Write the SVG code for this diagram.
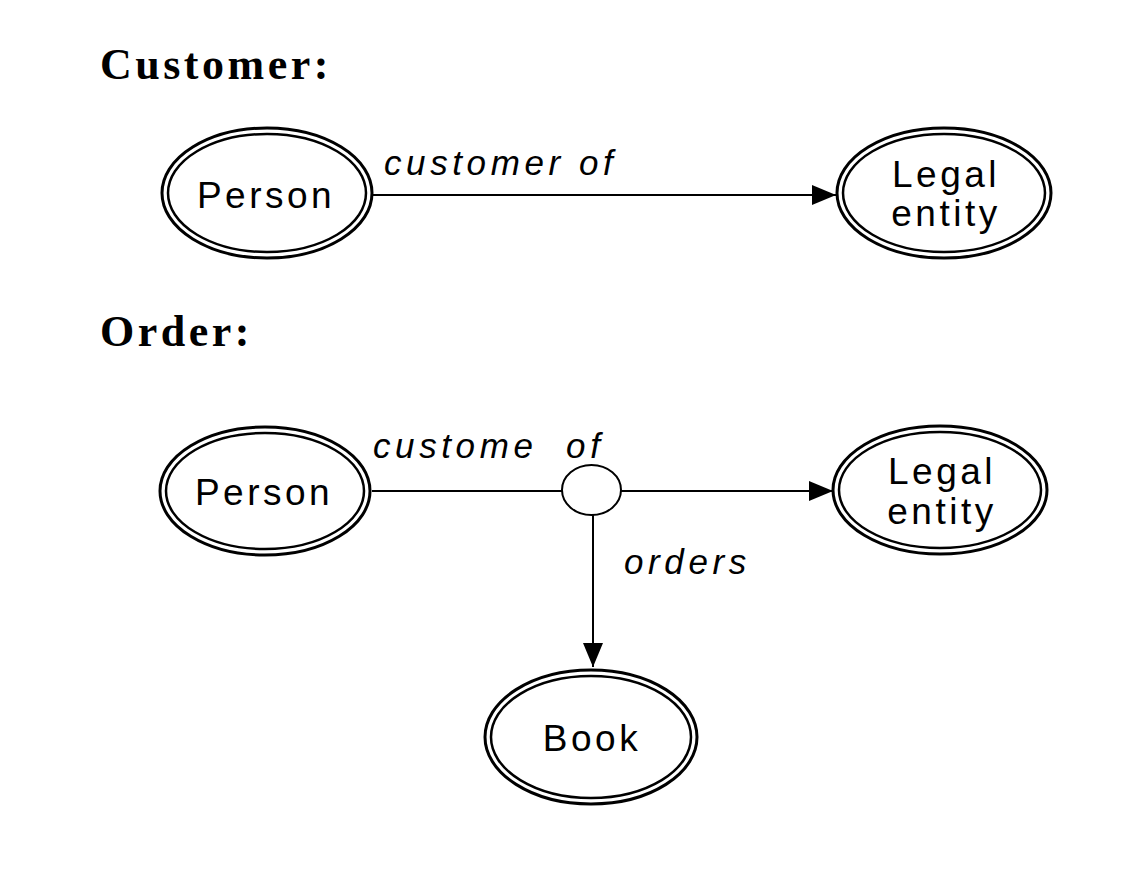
<svg xmlns="http://www.w3.org/2000/svg" width="1148" height="880" viewBox="0 0 1148 880">
<style>
.o{fill:none;stroke:#000;stroke-width:3}
.i{fill:none;stroke:#000;stroke-width:2.5}
.lbl{font-family:"Liberation Sans",Arial,sans-serif;font-size:37px;letter-spacing:3.5px;text-anchor:middle;fill:#000}
.rel{font-family:"Liberation Sans",Arial,sans-serif;font-size:35px;font-style:italic;letter-spacing:4.6px;fill:#000}
.hd{font-family:"Liberation Serif","Times New Roman",serif;font-size:44px;font-weight:bold;letter-spacing:3.5px;fill:#000}
.ln{stroke:#000;stroke-width:2;fill:none}
</style>
<defs>
<marker id="arr" markerWidth="24" markerHeight="20" refX="24" refY="10" orient="auto" markerUnits="userSpaceOnUse">
<path d="M0,0 L24,10 L0,20 Z" fill="#000"/>
</marker>
</defs>
<text class="hd" x="100" y="79">Customer:</text>
<text class="hd" x="100" y="346">Order:</text>
<g id="connectors">
<line class="ln" x1="373" y1="195" x2="836" y2="195" marker-end="url(#arr)"/>
<line class="ln" x1="372" y1="491" x2="562" y2="491"/>
<line class="ln" x1="621" y1="491" x2="833" y2="491" marker-end="url(#arr)"/>
<line class="ln" x1="593" y1="515" x2="593" y2="667" marker-end="url(#arr)"/>
<text class="rel" x="384" y="175">customer of</text>
<text class="rel" x="373" y="458" xml:space="preserve">custome  of</text>
<text class="rel" x="624" y="574">orders</text>
</g>
<g id="person1">
<ellipse class="o" cx="267" cy="193" rx="105" ry="65"/>
<ellipse class="i" cx="267" cy="193" rx="99" ry="59"/>
<text class="lbl" x="266" y="208">Person</text>
</g>
<g id="legal1">
<ellipse class="o" cx="944" cy="193" rx="107" ry="65"/>
<ellipse class="i" cx="944" cy="193" rx="101" ry="59"/>
<text class="lbl" x="946" y="187">Legal</text>
<text class="lbl" x="946" y="226">entity</text>
</g>
<g id="person2">
<ellipse class="o" cx="265" cy="491" rx="105" ry="64"/>
<ellipse class="i" cx="265" cy="491" rx="99" ry="58"/>
<text class="lbl" x="264" y="505">Person</text>
</g>
<g id="relnode">
<ellipse class="ln" cx="591.5" cy="490" rx="29.5" ry="25"/>
</g>
<g id="legal2">
<ellipse class="o" cx="940" cy="490" rx="107" ry="64"/>
<ellipse class="i" cx="940" cy="490" rx="101" ry="58"/>
<text class="lbl" x="942" y="484">Legal</text>
<text class="lbl" x="942" y="524">entity</text>
</g>
<g id="book">
<ellipse class="o" cx="591" cy="737" rx="106" ry="67"/>
<ellipse class="i" cx="591" cy="737" rx="100" ry="61"/>
<text class="lbl" x="592" y="751">Book</text>
</g>
</svg>
